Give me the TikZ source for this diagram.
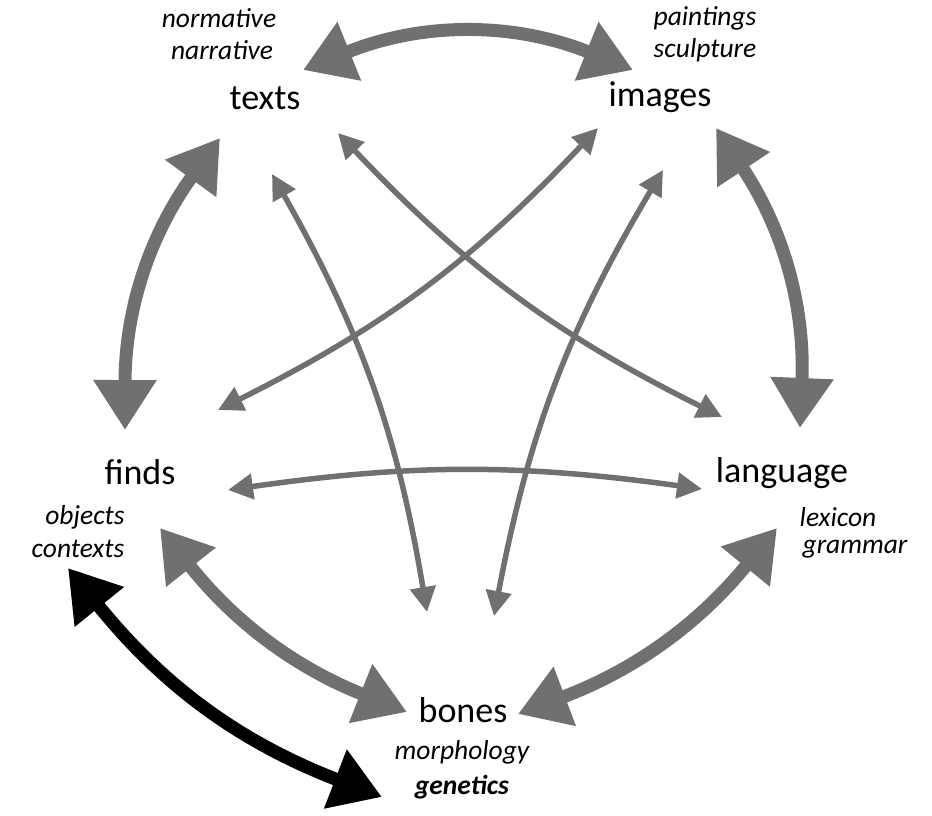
\documentclass[tikz,border=0pt]{standalone}
\usepackage{fontspec}
\setmainfont{Carlito}
\usetikzlibrary{arrows.meta}
\definecolor{ag}{RGB}{112,112,112}
\tikzset{
 big/.style={draw=ag,line width=13pt,{Triangle[length=50pt,width=60pt]}-{Triangle[length=50pt,width=60pt]}},
 blk/.style={big,draw=black},
 thin/.style={draw=ag,line width=5.5pt,{Triangle[length=25pt,width=25pt]}-{Triangle[length=25pt,width=25pt]}},
 lab/.style={font=\fontsize{36}{38}\selectfont},
 sub/.style={font=\fontsize{27.5}{29}\selectfont\itshape}
}
\begin{document}
\begin{tikzpicture}[x=1pt,y=-1pt]
\useasboundingbox (0,0) rectangle (932,816);
\node[lab] (t) at (265,98) {texts};
\node[sub] (t1) at (219,18) {normative};
\node[sub] (t2) at (222,50) {narrative};
\node[lab] (i) at (660,97) {images};
\node[sub] (i1) at (705,18) {paintings};
\node[sub] (i2) at (705,50) {sculpture};
\node[lab] (f) at (140,472) {finds};
\node[sub] (f1) at (85,517) {objects};
\node[sub] (f2) at (78,549) {contexts};
\node[lab] (l) at (782,473) {language};
\node[sub] (l1) at (838,517) {lexicon};
\node[sub] (l2) at (855,549) {grammar};
\node[lab] (b) at (463,710) {bones};
\node[sub] (b1) at (462,752) {morphology};
\node[sub,font=\fontsize{27.5}{29}\selectfont\itshape\bfseries] (b2) at (462,787) {genetics};
% endpoints
\coordinate (a1) at (303,70); \coordinate (a2) at (633,70);
\coordinate (a3) at (716,128); \coordinate (a4) at (800,428);
\coordinate (a5) at (220,138); \coordinate (a6) at (125,430);
\coordinate (a7) at (160,528); \coordinate (a8) at (407,712);
\coordinate (a9) at (777,528); \coordinate (a10) at (518,714);
\coordinate (k1) at (68,568); \coordinate (k2) at (382,797);
\draw[big] (a1) to[bend left=22] (a2);
\draw[big] (a3) to[bend left=18] (a4);
\draw[big] (a5) to[bend right=18] (a6);
\draw[big] (a7) to[bend right=15] (a8);
\draw[big] (a9) to[bend left=15] (a10);
\draw[blk] (k1) to[bend right=15] (k2);
\coordinate (c1) at (228,490); \coordinate (c2) at (702,489);
\coordinate (c3) at (272,174); \coordinate (c4) at (427,612);
\coordinate (c5) at (663,170); \coordinate (c6) at (494,616);
\coordinate (c7) at (598,128); \coordinate (c8) at (218,410);
\coordinate (c9) at (338,133); \coordinate (c10) at (722,417);
\draw[thin] (c1) to[bend left=8] (c2);
\draw[thin] (c3) to[bend left=10] (c4);
\draw[thin] (c5) to[bend right=10] (c6);
\draw[thin] (c7) to[bend left=10] (c8);
\draw[thin] (c9) to[bend right=10] (c10);
\end{tikzpicture}
\end{document}
